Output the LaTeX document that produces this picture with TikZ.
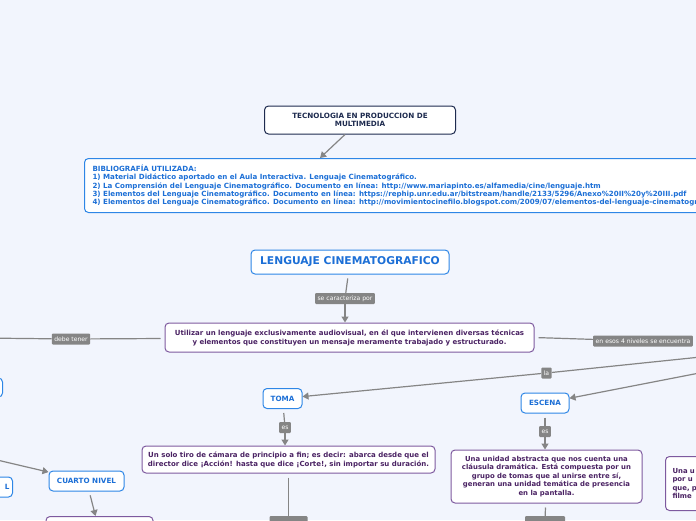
\documentclass[tikz,border=0pt]{standalone}
\usepackage{fontspec}
\setmainfont{DejaVu Sans}
\usetikzlibrary{arrows.meta,positioning}
\definecolor{bgblue}{HTML}{F2F5FD}
\definecolor{mapblue}{HTML}{2E86E6}
\definecolor{mapbluetext}{HTML}{1C6FD6}
\definecolor{mappurple}{HTML}{7E5A9F}
\definecolor{mappurpletext}{HTML}{4A2263}
\definecolor{mapnavy}{HTML}{1E2B4F}
\definecolor{mapgray}{HTML}{858585}
\tikzset{topic/.style={rounded corners=4, draw=mapnavy, fill=white, line width=1pt, text=mapnavy, font=\fontsize{7.2}{8.3}\selectfont\bfseries, align=center, inner sep=0pt}}
\tikzset{concept/.style={rounded corners=4, draw=mapblue, fill=white, line width=1pt, text=mapbluetext, font=\fontsize{7.2}{8.3}\selectfont\bfseries, align=center, inner sep=0pt}}
\tikzset{desc/.style={rounded corners=4, draw=mappurple, fill=white, line width=1pt, text=mappurpletext, font=\fontsize{7}{9}\selectfont\bfseries, align=center, inner sep=0pt}}
\tikzset{lbl/.style={fill=mapgray, text=white, rounded corners=1, font=\fontsize{6.1}{7}\selectfont, inner xsep=2.5pt, inner ysep=0pt, minimum height=11}}
\tikzset{conn/.style={draw=mapgray, line width=1.2pt}}
\tikzset{arr/.style={conn, -{Triangle[length=6pt,width=7pt]}}}
\tikzset{gap/.style={shorten <=4pt}}

\begin{document}
\begin{tikzpicture}[x=1pt,y=-1pt]
\path[use as bounding box, fill=bgblue] (0,0) rectangle (696,520);
\clip (0,0) rectangle (696,520);
% cabecera y bibliografia
\node[topic, minimum width=191, minimum height=28] (tec) at (360,120) {TECNOLOGIA EN PRODUCCION DE\\MULTIMEDIA};
\node[concept, anchor=north west, minimum height=54, align=left, inner xsep=8pt, font=\fontsize{7.1}{8.3}\selectfont\bfseries] (bib) at (84,158) {BIBLIOGRAFÍA UTILIZADA:\\
1) Material Didáctico aportado en el Aula Interactiva. Lenguaje Cinematográfico.\\
2) La Comprensión del Lenguaje Cinematográfico. Documento en línea: http://www.mariapinto.es/alfamedia/cine/lenguaje.htm\\
3) Elementos del Lenguaje Cinematográfico. Documento en línea: https://rephip.unr.edu.ar/bitstream/handle/2133/5296/Anexo\%20II\%20y\%20III.pdf\\
4) Elementos del Lenguaje Cinematográfico. Documento en línea: http://movimientocinefilo.blogspot.com/2009/07/elementos-del-lenguaje-cinematografico.html};

% tema central
\node[concept, minimum width=198, minimum height=24, font=\fontsize{10.7}{12}\selectfont\bfseries] (leng) at (350,262) {LENGUAJE CINEMATOGRAFICO};
\node[lbl] (caract) at (345,298.5) {se caracteriza por};
\node[desc, minimum width=369, minimum height=29] (util) at (349.5,337.5) {Utilizar un lenguaje exclusivamente audiovisual, en él que intervienen diversas técnicas\\y elementos que constituyen un mensaje meramente trabajado y estructurado.};
\node[lbl] (debe) at (71,339) {debe tener};
\node[lbl, anchor=west] (niveles) at (593,341) {en esos 4 niveles se encuentra};
\node[lbl] (la) at (546.5,373) {la};
\coordinate (offleft) at (-20,338);
\coordinate (offla) at (720,355);
\coordinate (offescena) at (720,369);
\coordinate (offcuarto) at (-20,456);

% niveles
\node[concept, minimum width=39, minimum height=20] (toma) at (282.5,398.5) {TOMA};
\node[concept, minimum width=48, minimum height=20] (escena) at (545,403) {ESCENA};
\node[lbl] (estoma) at (285,427.5) {es};
\node[lbl] (esescena) at (545,431.5) {es};
\node[desc, minimum width=293, minimum height=27] (tiro) at (288.5,459.5) {Un solo tiro de cámara de principio a fin; es decir: abarca desde que el\\director dice ¡Acción! hasta que dice ¡Corte!, sin importar su duración.};
\node[desc, minimum width=191, minimum height=53, font=\fontsize{6.9}{8.5}\selectfont\bfseries] (unidad) at (546.5,476.5) {Una unidad abstracta que nos cuenta una\\cláusula dramática. Está compuesta por un\\grupo de tomas que al unirse entre sí,\\generan una unidad temática de presencia\\en la pantalla.};
\node[desc, anchor=north west, minimum height=54, text width=66, align=left, inner xsep=7pt, font=\fontsize{6.9}{8.5}\selectfont\bfseries] (unidadb) at (665,456) {Una u\\por u\\que, p\\filme};
\node[concept, anchor=east, minimum width=60, minimum height=19] (nivelsup) at (3,387.5) {};
\node[concept, anchor=east, minimum width=60, minimum height=20, text width=54, align=right] (nivel) at (13,487) {L};
\node[concept, minimum width=75, minimum height=20] (cuarto) at (86.5,481) {CUARTO NIVEL};
\node[desc, anchor=north, minimum width=107, minimum height=30] (cuartodesc) at (99.5,516) {};
\node[lbl, anchor=north, minimum width=38] (tiroesta) at (288.5,516) {};
\node[lbl, anchor=north, minimum width=40] (unidadesta) at (545,516) {};

% conectores
\draw[arr] ([xshift=-15pt]tec.south) -- ([xshift=236pt]bib.north west);
\draw[conn, gap] (leng) -- (caract);
\draw[arr] (caract) -- (caract |- util.north);
\draw[conn, gap] (util) -- (debe);
\draw[conn] (debe) -- (offleft);
\draw[conn, gap] (util.east) -- (niveles);
\draw[conn] (offla) -- (la);
\draw[arr] (la) -- (toma);
\draw[arr] (offescena) -- (escena);
\draw[arr] (offcuarto) -- (cuarto);
\draw[conn, gap] (toma) -- (estoma);
\draw[arr] (estoma) -- (estoma |- tiro.north);
\draw[conn, gap] (escena) -- (esescena);
\draw[arr] (esescena) -- (esescena |- unidad.north);
\draw[conn, gap] (tiro) -- (tiroesta);
\draw[conn, gap] (unidad) -- (unidadesta);
\draw[arr, gap] (cuarto) -- (cuartodesc);
\end{tikzpicture}
\end{document}
